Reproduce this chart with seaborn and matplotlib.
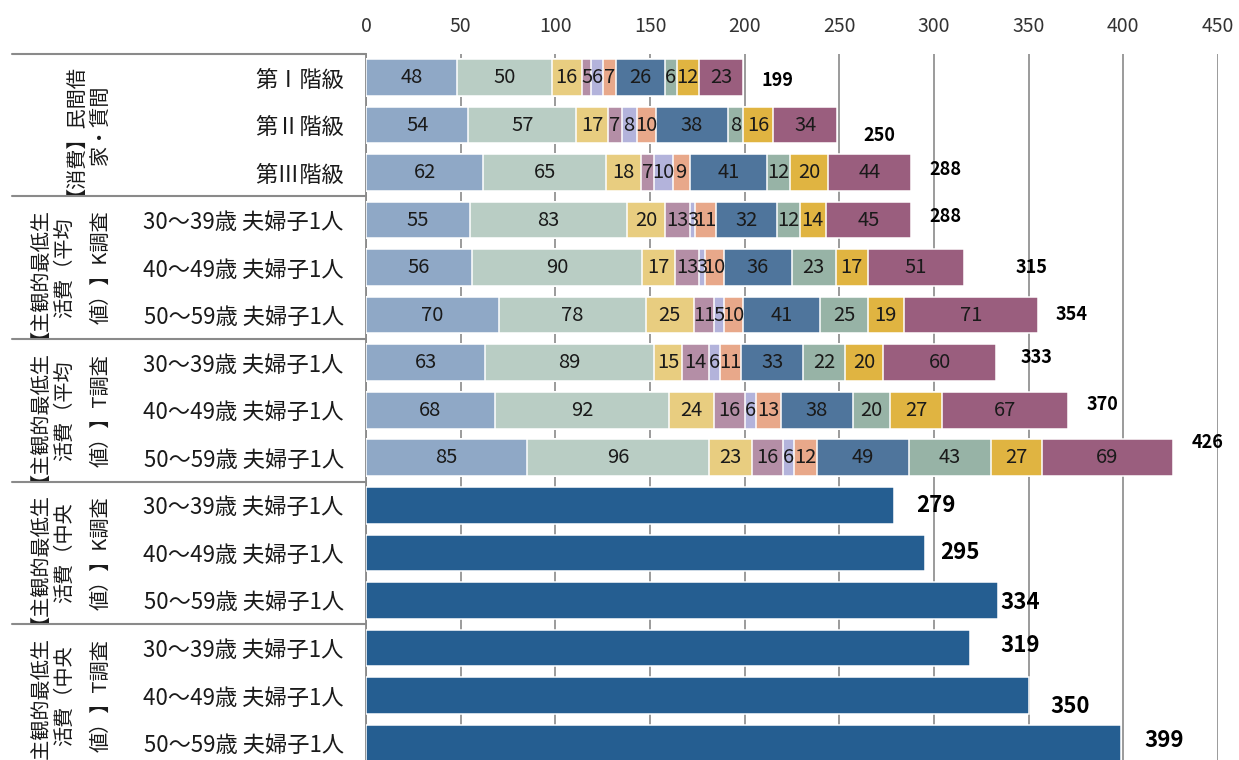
import matplotlib
matplotlib.use("Agg")
import matplotlib.pyplot as plt
import numpy as np
import pandas as pd
import seaborn as sns

# ---- data -------------------------------------------------------------
row_labels = ["第Ⅰ階級", "第Ⅱ階級", "第Ⅲ階級"] + [
    "30～39歳 夫婦子1人", "40～49歳 夫婦子1人", "50～59歳 夫婦子1人"] * 4

group_labels = [
    ["【消費】民間借", "家・賃間"],
    ["【主観的最低生", "活費（平均", "値）】K調査"],
    ["【主観的最低生", "活費（平均", "値）】T調査"],
    ["【主観的最低生", "活費（中央", "値）】K調査"],
    ["【主観的最低生", "活費（中央", "値）】T調査"],
]
group_sizes = [3, 3, 3, 3, 3]

# breakdown (thousand yen) for the first nine rows
food = [48, 54, 62, 55, 56, 70, 63, 68, 85]
housing = [50, 57, 65, 83, 90, 78, 89, 92, 96]
utilities = [16, 17, 18, 20, 17, 25, 15, 24, 23]
furniture = [5, 7, 7, 13, 13, 11, 14, 16, 16]
clothing = [6, 8, 10, 3, 3, 5, 6, 6, 6]
medical = [7, 10, 9, 11, 10, 10, 11, 13, 12]
transport = [26, 38, 41, 32, 36, 41, 33, 38, 49]
education = [6, 8, 12, 12, 23, 25, 22, 20, 43]
recreation = [12, 16, 20, 14, 17, 19, 20, 27, 27]
other = [23, 34, 44, 45, 51, 71, 60, 67, 69]

totals = [199, 250, 288, 288, 315, 354, 333, 370, 426,
          279, 295, 334, 319, 350, 399]

x_ticks = [0, 50, 100, 150, 200, 250, 300, 350, 400, 450]

# ---- styling ----------------------------------------------------------
components = [food, housing, utilities, furniture, clothing,
              medical, transport, education, recreation, other]
seg_colors = ["#8FA8C6", "#B9CDC4", "#E8CD80", "#B48EA6", "#B3B3DB",
              "#E8A88A", "#4F759C", "#97B3A6", "#E0B441", "#9A5E7E"]
median_color = "#255E91"
grid_color = "#8A8A8A"

# manual nudges of the total labels (pixels: right, down)
total_dx = [35, 40, 34, 34, 69, 35, 40, 36, 35, 42, 35, 22, 50, 41, 43]
total_dy = [3, 10, -3, -4, 0, -1, -5, -6, -15, 0, 0, 2, -2, 11, -3]

sns.set_theme(style="white")
plt.rcParams["font.family"] = ["Noto Sans CJK JP", "DejaVu Sans"]
plt.rcParams["text.color"] = "#1a1a1a"

W, H = 1239, 760
fig = plt.figure(figsize=(W / 100, H / 100), dpi=100)
ax_left, ax_right = 366, 1218
ax_top, ax_bot = 53.7, 766.8
ax = fig.add_axes([ax_left / W, 1 - ax_bot / H,
                   (ax_right - ax_left) / W, (ax_bot - ax_top) / H])

row_ids = [f"r{i:02d}" for i in range(len(row_labels))]
n_stack = len(food)
stack_ids = row_ids[:n_stack]

# stacked bars: draw cumulative layers from the longest down
stack = np.array(components)            # (10, 9)
cum = np.cumsum(stack, axis=0)
for k in range(len(components) - 1, -1, -1):
    df = pd.DataFrame({"row": stack_ids, "value": cum[k]})
    sns.barplot(data=df, x="value", y="row", order=row_ids, orient="h",
                color=seg_colors[k], width=0.77, edgecolor="white",
                linewidth=1.1, errorbar=None, saturation=1, ax=ax, zorder=3)

# single-value bars for the median rows
df_med = pd.DataFrame({"row": row_ids[n_stack:], "value": totals[n_stack:]})
sns.barplot(data=df_med, x="value", y="row", order=row_ids, orient="h",
            color=median_color, width=0.77, edgecolor="white",
            linewidth=1.1, errorbar=None, saturation=1, ax=ax, zorder=3)

# segment value labels
for k in range(len(components)):
    for i in range(n_stack):
        v = stack[k, i]
        ax.text(cum[k, i] - v / 2, i, str(v), ha="center", va="center",
                fontsize=14.5, color="#1a1a1a", zorder=5)

# total labels
for i, t in enumerate(totals):
    size = 13 if i < n_stack else 16
    ax.annotate(str(t), xy=(t, i), xytext=(total_dx[i], -total_dy[i]),
                textcoords="offset pixels", ha="center", va="center",
                fontsize=size, fontweight="bold", color="black",
                annotation_clip=False, zorder=6)

# axes cosmetics
ax.set_xlim(0, 450)
ax.set_ylim(len(row_ids) - 0.5, -0.5)
ax.set_xlabel("")
ax.set_ylabel("")
ax.set_xticks(x_ticks)
ax.set_xticklabels([str(t) for t in x_ticks])
ax.xaxis.tick_top()
ax.tick_params(axis="x", length=0, pad=12, labelsize=14, labelcolor="#333333")
ax.set_yticks(range(len(row_ids)))
ax.set_yticklabels(row_labels)
ax.tick_params(axis="y", length=0, pad=16, labelsize=16, labelcolor="#1a1a1a")
ax.set_axisbelow(True)
ax.xaxis.grid(True, color=grid_color, linewidth=1.2)
ax.yaxis.grid(False)
for side in ["top", "right", "bottom"]:
    ax.spines[side].set_visible(False)
ax.spines["left"].set_color(grid_color)
ax.spines["left"].set_linewidth(1.3)

# group separators and rotated group captions on the left
ytr = ax.get_yaxis_transform()
x_px = lambda px: (px - ax_left) / (ax_right - ax_left)
start = 0
for g, size in enumerate(group_sizes):
    ax.plot([x_px(12), 0], [start - 0.5, start - 0.5], transform=ytr,
            color=grid_color, linewidth=1.5, clip_on=False, zorder=4)
    center = start + (size - 1) / 2
    lines = group_labels[g]
    cols = [65, 100] if len(lines) == 2 else [29, 65, 101]
    for line, cx in zip(lines, cols):
        ax.text(x_px(cx), center, line, transform=ytr, rotation=90,
                ha="center", va="center", fontsize=14.5, color="#1a1a1a",
                clip_on=False)
    start += size

fig.savefig("out.png", dpi=100)
